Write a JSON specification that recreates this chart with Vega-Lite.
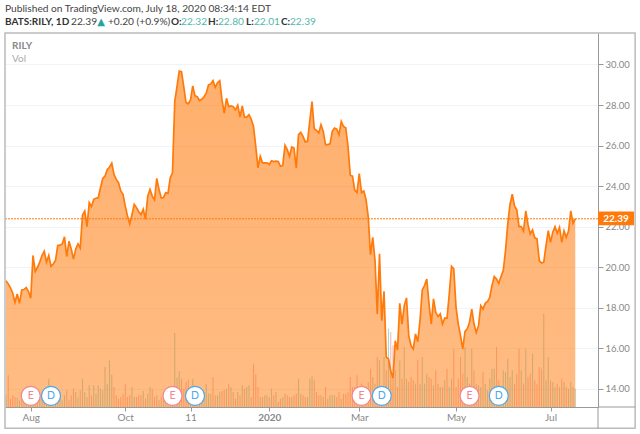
{"$schema":"https://vega.github.io/schema/vega-lite/v6.json","width":593,"height":374,"autosize":{"type":"none"},"padding":{"left":5,"top":33,"right":42,"bottom":27},"background":"white","config":{"view":{"stroke":null},"font":"Lato"},
"datasets":{"bars":[
{"i":0,"c":19.34,"v":35,"d":"u"},{"i":1,"c":19.18,"v":95,"d":"n"},{"i":2,"c":18.98,"v":25,"d":"n"},{"i":3,"c":18.72,"v":35,"d":"n"},{"i":4,"c":18.27,"v":30,"d":"n"},{"i":5,"c":18.68,"v":28,"d":"u"},{"i":6,"c":18.22,"v":20,"d":"n"},{"i":7,"c":18.88,"v":30,"d":"u"},{"i":8,"c":18.9,"v":25,"d":"u"},{"i":9,"c":19.0,"v":22,"d":"u"},
{"i":10,"c":18.8,"v":30,"d":"n"},{"i":11,"c":18.47,"v":40,"d":"n"},{"i":12,"c":20.58,"v":30,"d":"u"},{"i":13,"c":19.79,"v":45,"d":"n"},{"i":14,"c":20,"v":30,"d":"u"},{"i":15,"c":20.25,"v":40,"d":"u"},{"i":16,"c":20.58,"v":35,"d":"u"},{"i":17,"c":20.79,"v":25,"d":"u"},{"i":18,"c":20.25,"v":30,"d":"n"},{"i":19,"c":20.58,"v":85,"d":"u"},
{"i":20,"c":20.05,"v":30,"d":"n"},{"i":21,"c":20.16,"v":25,"d":"u"},{"i":22,"c":20.33,"v":35,"d":"u"},{"i":23,"c":21.07,"v":30,"d":"u"},{"i":24,"c":21.09,"v":30,"d":"u"},{"i":25,"c":21.15,"v":20,"d":"u"},{"i":26,"c":21.5,"v":35,"d":"u"},{"i":27,"c":20.53,"v":50,"d":"n"},{"i":28,"c":21.28,"v":20,"d":"u"},{"i":29,"c":20.9,"v":35,"d":"n"},
{"i":30,"c":20.4,"v":55,"d":"n"},{"i":31,"c":20.9,"v":45,"d":"u"},{"i":32,"c":21.15,"v":28,"d":"u"},{"i":33,"c":20.95,"v":50,"d":"n"},{"i":34,"c":22.57,"v":85,"d":"u"},{"i":35,"c":22.78,"v":45,"d":"u"},{"i":36,"c":22.0,"v":30,"d":"n"},{"i":37,"c":23.19,"v":65,"d":"u"},{"i":38,"c":22.99,"v":35,"d":"n"},{"i":39,"c":23.35,"v":65,"d":"u"},
{"i":40,"c":23.4,"v":40,"d":"u"},{"i":41,"c":23.43,"v":65,"d":"u"},{"i":42,"c":23.92,"v":55,"d":"u"},{"i":43,"c":24.38,"v":50,"d":"u"},{"i":44,"c":24.49,"v":120,"d":"u"},{"i":45,"c":24.82,"v":70,"d":"u"},{"i":46,"c":24.93,"v":140,"d":"u"},{"i":47,"c":25.13,"v":97,"d":"u"},{"i":48,"c":24.58,"v":60,"d":"n"},{"i":49,"c":24.33,"v":35,"d":"n"},
{"i":50,"c":24.17,"v":25,"d":"n"},{"i":51,"c":23.76,"v":30,"d":"n"},{"i":52,"c":23.6,"v":40,"d":"n"},{"i":53,"c":23.02,"v":68,"d":"n"},{"i":54,"c":22.53,"v":30,"d":"n"},{"i":55,"c":22.14,"v":35,"d":"n"},{"i":56,"c":22.6,"v":60,"d":"u"},{"i":57,"c":23.1,"v":30,"d":"u"},{"i":58,"c":22.94,"v":30,"d":"n"},{"i":59,"c":22.74,"v":35,"d":"n"},
{"i":60,"c":22.6,"v":35,"d":"n"},{"i":61,"c":22.86,"v":48,"d":"u"},{"i":62,"c":22.37,"v":25,"d":"n"},{"i":63,"c":23.51,"v":40,"d":"u"},{"i":64,"c":23.84,"v":60,"d":"u"},{"i":65,"c":23.51,"v":55,"d":"n"},{"i":66,"c":23.32,"v":30,"d":"n"},{"i":67,"c":24.38,"v":35,"d":"u"},{"i":68,"c":23.84,"v":20,"d":"n"},{"i":69,"c":23.42,"v":30,"d":"n"},
{"i":70,"c":23.43,"v":25,"d":"u"},{"i":71,"c":23.68,"v":35,"d":"u"},{"i":72,"c":23.64,"v":30,"d":"n"},{"i":73,"c":24.41,"v":35,"d":"u"},{"i":74,"c":24.66,"v":40,"d":"u"},{"i":75,"c":28.17,"v":223,"d":"u"},{"i":76,"c":28.9,"v":88,"d":"u"},{"i":77,"c":29.67,"v":107,"d":"u"},{"i":78,"c":29.64,"v":85,"d":"n"},{"i":79,"c":28.9,"v":55,"d":"n"},
{"i":80,"c":28.12,"v":75,"d":"n"},{"i":81,"c":28.06,"v":82,"d":"n"},{"i":82,"c":28.25,"v":45,"d":"u"},{"i":83,"c":28.94,"v":85,"d":"u"},{"i":84,"c":28.45,"v":50,"d":"n"},{"i":85,"c":28.41,"v":40,"d":"n"},{"i":86,"c":28.22,"v":40,"d":"n"},{"i":87,"c":28.28,"v":45,"d":"u"},{"i":88,"c":28.41,"v":45,"d":"u"},{"i":89,"c":28.58,"v":70,"d":"u"},
{"i":90,"c":28.99,"v":40,"d":"u"},{"i":91,"c":29.04,"v":40,"d":"u"},{"i":92,"c":29.2,"v":90,"d":"n"},{"i":93,"c":28.87,"v":35,"d":"n"},{"i":94,"c":29.1,"v":35,"d":"u"},{"i":95,"c":29.2,"v":45,"d":"u"},{"i":96,"c":28.25,"v":48,"d":"n"},{"i":97,"c":27.6,"v":50,"d":"n"},{"i":98,"c":28.33,"v":55,"d":"u"},{"i":99,"c":27.92,"v":70,"d":"n"},
{"i":100,"c":27.96,"v":60,"d":"u"},{"i":101,"c":27.92,"v":45,"d":"n"},{"i":102,"c":27.76,"v":25,"d":"n"},{"i":103,"c":27.99,"v":45,"d":"u"},{"i":104,"c":27.4,"v":35,"d":"n"},{"i":105,"c":27.96,"v":65,"d":"u"},{"i":106,"c":27.4,"v":55,"d":"n"},{"i":107,"c":27.4,"v":60,"d":"u"},{"i":108,"c":27.52,"v":65,"d":"u"},{"i":109,"c":27.3,"v":30,"d":"n"},
{"i":110,"c":26.94,"v":128,"d":"n"},{"i":111,"c":25.96,"v":98,"d":"n"},{"i":112,"c":24.9,"v":60,"d":"n"},{"i":113,"c":25.47,"v":30,"d":"u"},{"i":114,"c":25.15,"v":30,"d":"n"},{"i":115,"c":25.15,"v":35,"d":"u"},{"i":116,"c":25.15,"v":35,"d":"u"},{"i":117,"c":25.07,"v":30,"d":"n"},{"i":118,"c":25.25,"v":55,"d":"u"},{"i":119,"c":25.21,"v":35,"d":"n"},
{"i":120,"c":25.23,"v":45,"d":"u"},{"i":121,"c":25.21,"v":15,"d":"n"},{"i":122,"c":24.98,"v":25,"d":"n"},{"i":123,"c":25.02,"v":30,"d":"u"},{"i":124,"c":26.01,"v":40,"d":"u"},{"i":125,"c":25.8,"v":35,"d":"n"},{"i":126,"c":25.47,"v":30,"d":"n"},{"i":127,"c":25.93,"v":30,"d":"u"},{"i":128,"c":25.88,"v":35,"d":"n"},{"i":129,"c":24.9,"v":40,"d":"n"},
{"i":130,"c":26.54,"v":85,"d":"u"},{"i":131,"c":26.65,"v":40,"d":"u"},{"i":132,"c":26.45,"v":35,"d":"n"},{"i":133,"c":26.18,"v":30,"d":"n"},{"i":134,"c":26.21,"v":30,"d":"u"},{"i":135,"c":27.19,"v":85,"d":"u"},{"i":136,"c":28.17,"v":92,"d":"u"},{"i":137,"c":26.83,"v":82,"d":"n"},{"i":138,"c":26.75,"v":45,"d":"n"},{"i":139,"c":26.62,"v":35,"d":"n"},
{"i":140,"c":27.03,"v":35,"d":"u"},{"i":141,"c":26.7,"v":30,"d":"n"},{"i":142,"c":26.05,"v":60,"d":"n"},{"i":143,"c":26.05,"v":25,"d":"u"},{"i":144,"c":26.08,"v":35,"d":"u"},{"i":145,"c":26.7,"v":35,"d":"u"},{"i":146,"c":26.86,"v":35,"d":"u"},{"i":147,"c":26.81,"v":30,"d":"n"},{"i":148,"c":26.54,"v":45,"d":"n"},{"i":149,"c":27.19,"v":25,"d":"u"},
{"i":150,"c":26.94,"v":40,"d":"n"},{"i":151,"c":26.88,"v":40,"d":"n"},{"i":152,"c":25.96,"v":45,"d":"n"},{"i":153,"c":24.54,"v":90,"d":"n"},{"i":154,"c":24.49,"v":60,"d":"n"},{"i":155,"c":23.8,"v":60,"d":"n"},{"i":156,"c":23.68,"v":95,"d":"n"},{"i":157,"c":24.62,"v":45,"d":"u"},{"i":158,"c":23.68,"v":70,"d":"n"},{"i":159,"c":23.76,"v":30,"d":"u"},
{"i":160,"c":23.35,"v":60,"d":"n"},{"i":161,"c":22.47,"v":75,"d":"n"},{"i":162,"c":20.62,"v":115,"d":"n"},{"i":163,"c":21.48,"v":90,"d":"u"},{"i":164,"c":20.33,"v":70,"d":"n"},{"i":165,"c":17.7,"v":150,"d":"n"},{"i":166,"c":20.66,"v":140,"d":"u"},{"i":167,"c":17.37,"v":60,"d":"n"},{"i":168,"c":18.82,"v":150,"d":"u"},{"i":169,"c":15.56,"v":110,"d":"n"},
{"i":170,"c":15.48,"v":235,"d":"u"},{"i":171,"c":14.87,"v":225,"d":"n"},{"i":172,"c":14.54,"v":185,"d":"n"},{"i":173,"c":16.38,"v":110,"d":"u"},{"i":174,"c":15.92,"v":60,"d":"n"},{"i":175,"c":18.22,"v":140,"d":"u"},{"i":176,"c":17.2,"v":85,"d":"n"},{"i":177,"c":18.11,"v":180,"d":"u"},{"i":178,"c":18.49,"v":85,"d":"u"},{"i":179,"c":16.63,"v":75,"d":"n"},
{"i":180,"c":16.13,"v":90,"d":"n"},{"i":181,"c":15.97,"v":80,"d":"n"},{"i":182,"c":16.71,"v":70,"d":"u"},{"i":183,"c":16.33,"v":140,"d":"n"},{"i":184,"c":17.37,"v":70,"d":"u"},{"i":185,"c":18.88,"v":150,"d":"u"},{"i":186,"c":19.1,"v":70,"d":"u"},{"i":187,"c":19.42,"v":100,"d":"u"},{"i":188,"c":18.19,"v":90,"d":"n"},{"i":189,"c":17.2,"v":85,"d":"n"},
{"i":190,"c":18.44,"v":65,"d":"u"},{"i":191,"c":17.78,"v":110,"d":"n"},{"i":192,"c":17.57,"v":70,"d":"n"},{"i":193,"c":17.7,"v":60,"d":"u"},{"i":194,"c":17.2,"v":60,"d":"n"},{"i":195,"c":17.5,"v":80,"d":"u"},{"i":196,"c":17.48,"v":115,"d":"n"},{"i":197,"c":18.68,"v":60,"d":"u"},{"i":198,"c":20.05,"v":85,"d":"u"},{"i":199,"c":19.92,"v":175,"d":"n"},
{"i":200,"c":18.03,"v":60,"d":"n"},{"i":201,"c":17.2,"v":85,"d":"n"},{"i":202,"c":16.63,"v":150,"d":"n"},{"i":203,"c":15.97,"v":100,"d":"n"},{"i":204,"c":16.84,"v":180,"d":"u"},{"i":205,"c":16.96,"v":90,"d":"u"},{"i":206,"c":17.29,"v":70,"d":"u"},{"i":207,"c":17.94,"v":175,"d":"u"},{"i":208,"c":17.2,"v":110,"d":"n"},{"i":209,"c":16.78,"v":70,"d":"n"},
{"i":210,"c":17.12,"v":65,"d":"u"},{"i":211,"c":18.11,"v":60,"d":"u"},{"i":212,"c":17.94,"v":105,"d":"n"},{"i":213,"c":18.22,"v":70,"d":"u"},{"i":214,"c":18.31,"v":50,"d":"u"},{"i":215,"c":18.52,"v":85,"d":"u"},{"i":216,"c":19.1,"v":115,"d":"u"},{"i":217,"c":19.54,"v":115,"d":"u"},{"i":218,"c":19.42,"v":180,"d":"n"},{"i":219,"c":19.21,"v":80,"d":"n"},
{"i":220,"c":19.54,"v":60,"d":"u"},{"i":221,"c":19.84,"v":110,"d":"u"},{"i":222,"c":20.82,"v":105,"d":"u"},{"i":223,"c":22.14,"v":145,"d":"u"},{"i":224,"c":23.1,"v":90,"d":"u"},{"i":225,"c":23.6,"v":110,"d":"u"},{"i":226,"c":23.02,"v":70,"d":"n"},{"i":227,"c":22.83,"v":100,"d":"n"},{"i":228,"c":22.0,"v":175,"d":"n"},{"i":229,"c":22.0,"v":110,"d":"u"},
{"i":230,"c":21.78,"v":70,"d":"n"},{"i":231,"c":22.78,"v":175,"d":"u"},{"i":232,"c":22.1,"v":90,"d":"n"},{"i":233,"c":21.64,"v":100,"d":"n"},{"i":234,"c":21.84,"v":160,"d":"u"},{"i":235,"c":21.45,"v":80,"d":"n"},{"i":236,"c":21.4,"v":70,"d":"n"},{"i":237,"c":20.33,"v":120,"d":"n"},{"i":238,"c":20.21,"v":115,"d":"n"},{"i":239,"c":20.25,"v":280,"d":"u"},
{"i":240,"c":21.07,"v":80,"d":"u"},{"i":241,"c":21.8,"v":150,"d":"u"},{"i":242,"c":21.23,"v":80,"d":"n"},{"i":243,"c":21.73,"v":75,"d":"u"},{"i":244,"c":22.0,"v":60,"d":"u"},{"i":245,"c":21.68,"v":70,"d":"n"},{"i":246,"c":21.97,"v":60,"d":"u"},{"i":247,"c":21.23,"v":85,"d":"n"},{"i":248,"c":21.8,"v":75,"d":"u"},{"i":249,"c":21.48,"v":60,"d":"n"},
{"i":250,"c":21.78,"v":55,"d":"u"},{"i":251,"c":22.78,"v":75,"d":"u"},{"i":252,"c":22.17,"v":60,"d":"n"},{"i":253,"c":22.39,"v":55,"d":"u"}],
"events":[{"i":11,"k":"E","p":13.66},{"i":20,"k":"D","p":13.66},{"i":74,"k":"E","p":13.66},{"i":84,"k":"D","p":13.66},{"i":158,"k":"E","p":13.66},{"i":167,"k":"D","p":13.66},{"i":206,"k":"E","p":13.66},{"i":219,"k":"D","p":13.66}],
"labels":[
{"s":"plain","t":"Published on TradingView.com, July 18, 2020 08:34:14 EDT","i":-0.44,"p":32.71},
{"s":"bold","t":"BATS:RILY, 1D","i":-0.44,"p":32.07},
{"s":"plain","t":"22.39","i":28.9,"p":32.07},
{"s":"tri","t":"▲","i":40.6,"p":32.07},
{"s":"plain","t":"+0.20 (+0.9%)","i":45.3,"p":32.07},
{"s":"bold","t":"O:","i":73.3,"p":32.07},
{"s":"teal","t":"22.32","i":77.8,"p":32.07},
{"s":"bold","t":"H:","i":89.8,"p":32.07},
{"s":"teal","t":"22.80","i":94.2,"p":32.07},
{"s":"bold","t":"L:","i":106.7,"p":32.07},
{"s":"teal","t":"22.01","i":110.2,"p":32.07},
{"s":"bold","t":"C:","i":122.2,"p":32.07},
{"s":"teal","t":"22.39","i":126.2,"p":32.07},
{"s":"greybold","t":"RILY","i":2.67,"p":30.91},
{"s":"grey","t":"Vol","i":2.67,"p":30.27}],
"frame":[{"a":-0.44,"b":279.6,"lo":12.06,"hi":31.55}],
"lines":[{"a":263.1,"b":263.1,"lo":12.06,"hi":13.11},{"a":263.1,"b":279.6,"lo":13.11,"hi":13.11}],
"last":[{"a":-0.44,"b":263.1,"p":22.39,"boxa":263.1,"boxb":279.1,"lo":22.07,"hi":22.75,"mid":271.1,"t":"22.39"}]},
"encoding":{},
"resolve":{"scale":{"y":"independent"}},
"layer":[
{"data":{"name":"bars"},"mark":{"type":"bar","size":1.1,"opacity":0.42},
"encoding":{"x":{"field":"i","type":"quantitative","scale":{"domain":[-0.44,263.1],"nice":false,"zero":false,"padding":0},
"axis":{"orient":"bottom","title":null,"values":[11,53,82,117,157,200,242],"grid":false,"domainColor":"#999999","tickColor":"#999999","tickSize":4,"labelColor":"#888888","labelFontSize":10,"labelPadding":1,"labelFontWeight":{"condition":{"test":"datum.value==117","value":"bold"},"value":"normal"},"labelExpr":"datum.value==11?'Aug':datum.value==53?'Oct':datum.value==82?'11':datum.value==117?'2020':datum.value==157?'Mar':datum.value==200?'May':'Jul'"}},
"y":{"field":"v","type":"quantitative","scale":{"domain":[0,1122],"nice":false},"axis":null},
"color":{"field":"d","type":"nominal","scale":{"domain":["u","n"],"range":["#26a69a","#ef5350"]},"legend":null}}},
{"layer":[
{"data":{"name":"bars"},"mark":{"type":"area","interpolate":"linear","color":{"x1":0,"y1":0,"x2":0,"y2":1,"gradient":"linear","stops":[{"offset":0,"color":"rgba(255,122,10,0.6)"},{"offset":1,"color":"rgba(255,122,10,0.5)"}]}},
"encoding":{"x":{"field":"i","type":"quantitative"},"y":{"field":"c","type":"quantitative","scale":{"domain":[13.11,31.55],"nice":false,"zero":false},
"axis":{"orient":"right","title":null,"values":[14,16,18,20,22,24,26,28,30],"format":".2f","grid":true,"gridColor":"#f0f3fa","domainColor":"#999999","tickColor":"#999999","tickSize":5,"labelColor":"#888888","labelFontSize":9.5,"labelPadding":2}},"y2":{"datum":13.11}}},
{"data":{"name":"last"},"mark":{"type":"rule","color":"#ff7a0a","strokeDash":[2,1],"strokeWidth":1},
"encoding":{"x":{"field":"a","type":"quantitative"},"x2":{"field":"b"},"y":{"field":"p","type":"quantitative"}}},
{"data":{"name":"bars"},"mark":{"type":"line","color":"#ff7a0a","strokeWidth":1.7,"interpolate":"linear"},
"encoding":{"x":{"field":"i","type":"quantitative"},"y":{"field":"c","type":"quantitative"}}},
{"data":{"name":"events"},"mark":{"type":"point","shape":"circle","filled":false,"fill":"white","fillOpacity":1,"size":361,"strokeWidth":1.2,"opacity":1},
"encoding":{"x":{"field":"i","type":"quantitative"},"y":{"field":"p","type":"quantitative"},"stroke":{"field":"k","type":"nominal","scale":{"domain":["E","D"],"range":["#f0868f","#4ca8ee"]},"legend":null}}},
{"data":{"name":"events"},"transform":[{"filter":"datum.k=='E'"}],"mark":{"type":"text","fontSize":10.5,"align":"center","baseline":"middle","color":"#f0868f"},
"encoding":{"x":{"field":"i","type":"quantitative"},"y":{"field":"p","type":"quantitative"},"text":{"field":"k"}}},
{"data":{"name":"events"},"transform":[{"filter":"datum.k=='D'"}],"mark":{"type":"text","fontSize":10.5,"align":"center","baseline":"middle","color":"#4ca8ee"},
"encoding":{"x":{"field":"i","type":"quantitative"},"y":{"field":"p","type":"quantitative"},"text":{"field":"k"}}},
{"data":{"name":"frame"},"mark":{"type":"rect","fillOpacity":0,"stroke":"#bbbbbb","strokeWidth":1.5},
"encoding":{"x":{"field":"a","type":"quantitative"},"x2":{"field":"b"},"y":{"field":"lo","type":"quantitative"},"y2":{"field":"hi"}}},
{"data":{"name":"lines"},"mark":{"type":"rule","color":"#999999","strokeWidth":1},
"encoding":{"x":{"field":"a","type":"quantitative"},"x2":{"field":"b"},"y":{"field":"lo","type":"quantitative"},"y2":{"field":"hi"}}},
{"data":{"name":"last"},"mark":{"type":"rect","color":"#ff7a0a"},
"encoding":{"x":{"field":"boxa","type":"quantitative"},"x2":{"field":"boxb"},"y":{"field":"lo","type":"quantitative"},"y2":{"field":"hi"}}},
{"data":{"name":"last"},"mark":{"type":"text","color":"white","fontSize":10,"fontWeight":"bold","align":"center","baseline":"middle"},
"encoding":{"x":{"field":"mid","type":"quantitative"},"y":{"field":"p","type":"quantitative"},"text":{"field":"t"}}},
{"data":{"name":"labels"},"transform":[{"filter":"datum.s=='plain'"}],"mark":{"type":"text","color":"#444444","fontSize":10.2,"align":"left","baseline":"middle"},
"encoding":{"x":{"field":"i","type":"quantitative"},"y":{"field":"p","type":"quantitative"},"text":{"field":"t"}}},
{"data":{"name":"labels"},"transform":[{"filter":"datum.s=='bold'"}],"mark":{"type":"text","color":"#333333","fontSize":10,"fontWeight":"bold","align":"left","baseline":"middle"},
"encoding":{"x":{"field":"i","type":"quantitative"},"y":{"field":"p","type":"quantitative"},"text":{"field":"t"}}},
{"data":{"name":"labels"},"transform":[{"filter":"datum.s=='teal'"}],"mark":{"type":"text","color":"#53b9ab","fontSize":10.2,"align":"left","baseline":"middle"},
"encoding":{"x":{"field":"i","type":"quantitative"},"y":{"field":"p","type":"quantitative"},"text":{"field":"t"}}},
{"data":{"name":"labels"},"transform":[{"filter":"datum.s=='tri'"}],"mark":{"type":"text","color":"#26a69a","fontSize":10,"font":"DejaVu Sans","align":"left","baseline":"middle"},
"encoding":{"x":{"field":"i","type":"quantitative"},"y":{"field":"p","type":"quantitative"},"text":{"field":"t"}}},
{"data":{"name":"labels"},"transform":[{"filter":"datum.s=='greybold'"}],"mark":{"type":"text","color":"#888888","fontSize":10,"fontWeight":"bold","align":"left","baseline":"middle"},
"encoding":{"x":{"field":"i","type":"quantitative"},"y":{"field":"p","type":"quantitative"},"text":{"field":"t"}}},
{"data":{"name":"labels"},"transform":[{"filter":"datum.s=='grey'"}],"mark":{"type":"text","color":"#aaaaaa","fontSize":10,"align":"left","baseline":"middle"},
"encoding":{"x":{"field":"i","type":"quantitative"},"y":{"field":"p","type":"quantitative"},"text":{"field":"t"}}}
]}
]}
